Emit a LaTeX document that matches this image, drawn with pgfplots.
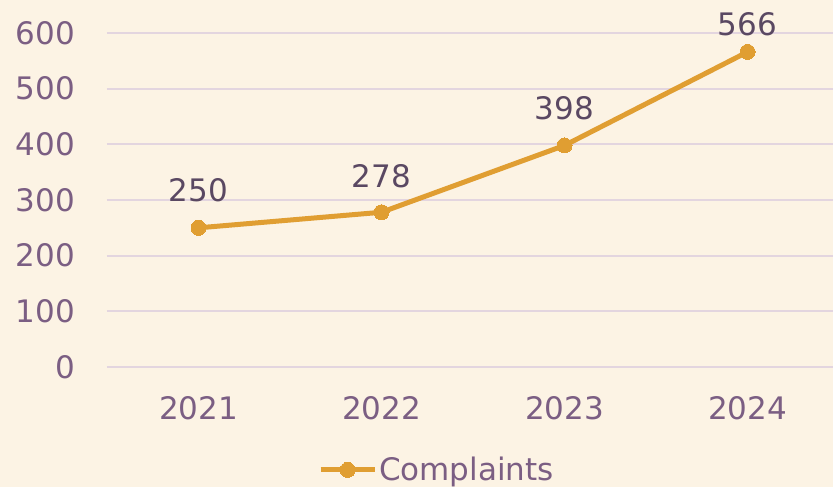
\documentclass[border=0pt]{standalone}
\usepackage{pgfplots}
\pgfplotsset{compat=1.18}
\usepackage{fontspec}
\setmainfont{DejaVu Sans}
\definecolor{bgc}{HTML}{FCF3E4}
\definecolor{tickc}{HTML}{7B5E83}
\definecolor{labc}{HTML}{5A4862}
\definecolor{linec}{HTML}{E09E32}
\definecolor{gridc}{HTML}{E3D5DF}
\begin{document}
\begin{tikzpicture}
\fill[bgc] (-107pt,-120pt) rectangle (726pt,367pt);
\useasboundingbox (-107pt,-120pt) rectangle (726pt,367pt);
\begin{axis}[
  at={(0pt,0pt)}, anchor=south west,
  scale only axis, width=726pt, height=334pt,
  xmin=-0.5, xmax=3.467, ymin=0, ymax=600,
  xtick={0,1,2,3}, xticklabels={2021,2022,2023,2024},
  ytick={0,100,200,300,400,500,600},
  axis line style={draw=none},
  major tick length=0pt,
  ymajorgrids, grid style={gridc, line width=2pt},
  tick label style={font=\fontsize{31}{37}\selectfont, text=tickc},
  /pgf/number format/assume math mode=true,
  yticklabel style={anchor=east, inner sep=0pt, xshift=-32pt},
  xticklabel style={anchor=north, inner sep=0pt, yshift=-29pt},
  clip=false,
  legend style={at={(0.4545,-0.308)}, anchor=center, draw=none, fill=none,
    font=\fontsize{31}{37}\selectfont, text=tickc, inner sep=0pt},
  legend image code/.code={\draw[mark repeat=2,mark phase=2,#1] plot coordinates {(0pt,0pt)(27pt,0pt)(54pt,0pt)};},
  legend cell align=left,
]
\addplot[linec, line width=5pt, mark=*, mark size=7.5pt, mark options={fill=linec, draw=linec, line width=0pt},
  nodes near coords, point meta=explicit symbolic,
  visualization depends on={\thisrow{off}\as\off},
  nodes near coords style={anchor=center, yshift=\off pt, text=labc, font=\fontsize{31}{37}\selectfont},
] table[meta=lab] {
x y lab off
0 250 250 38
1 278 278 36
2 398 398 37
3 566 566 28
};
\addlegendentry{Complaints}
\end{axis}
\end{tikzpicture}
\end{document}
